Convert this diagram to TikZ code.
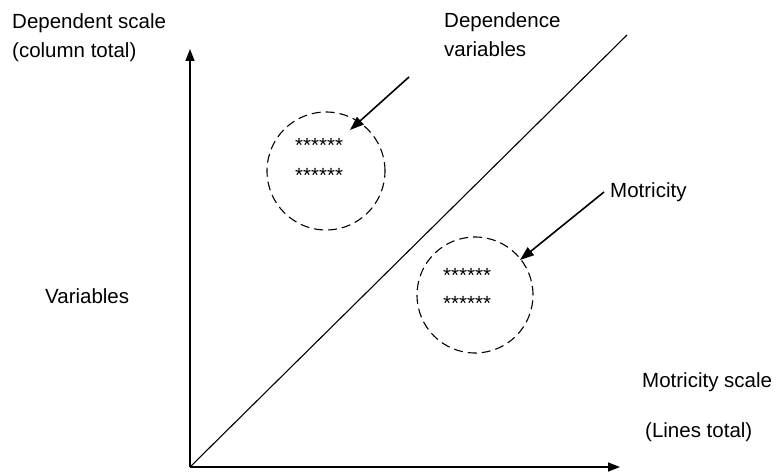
\documentclass[tikz,border=0pt]{standalone}
\usepackage{fontspec}
\setmainfont{Liberation Sans}
\usetikzlibrary{arrows.meta}
\tikzset{
  lbl/.style={anchor=base west,inner sep=0pt,font=\fontsize{20.5}{24}\selectfont},
  axis/.style={line width=1.6pt,-{Triangle[length=12pt,width=9pt]}},
  pointer/.style={line width=1.6pt,-{Triangle[length=14pt,width=10pt]}},
  dashcircle/.style={circle,draw,line width=1.1pt,dash pattern=on 9pt off 5pt,inner sep=0pt}
}
\begin{document}
\begin{tikzpicture}[x=1pt,y=-1pt]
\useasboundingbox (0,0) rectangle (776,476);
% Axes
\coordinate (O) at (190,467);
\coordinate (ytop) at (190,49);
\coordinate (xend) at (620,467);
\coordinate (dtop) at (627,35);
\draw[axis] (O) -- (ytop);
\draw[axis] (O) -- (xend);
\draw[line width=1.1pt] (O) -- (dtop);

% Axis labels
\node[lbl] (dscale) at (12,29) {Dependent scale};
\node[lbl] (ctotal) at (12,58) {(column total)};
\node[lbl] (vars) at (45,303) {Variables};
\node[lbl] (mscale) at (642,387) {Motricity scale};
\node[lbl] (ltotal) at (645,437) {(Lines total)};

% Dependence circle
\node[dashcircle,minimum size=118pt] (depc) at (326,171) {};
\node[lbl] (depa) at (295,152) {******};
\node[lbl] (depb) at (295,182) {******};
\node[lbl] (deplbl1) at (444,28) {Dependence};
\node[lbl] (deplbl2) at (444,57) {variables};
\coordinate (deptail) at (409,77);
\coordinate (deptip) at (350,130);
\draw[pointer] (deptail) -- (deptip);

% Motricity circle
\node[dashcircle,minimum size=116pt] (motc) at (475,295) {};
\node[lbl] (mota) at (443,282) {******};
\node[lbl] (motb) at (443,310) {******};
\node[lbl] (motlbl) at (610,197) {Motricity};
\coordinate (mottail) at (604,192);
\coordinate (mottip) at (520,260);
\draw[pointer] (mottail) -- (mottip);
\end{tikzpicture}
\end{document}
